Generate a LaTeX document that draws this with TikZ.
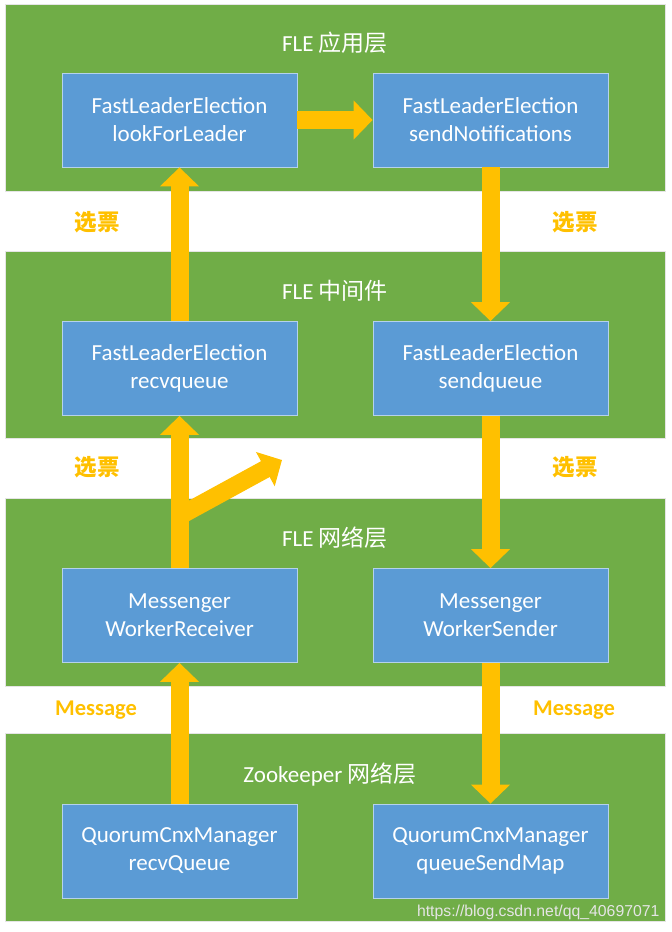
\documentclass[tikz,border=0pt]{standalone}
\usepackage{fontspec}
\setmainfont{Carlito}
\newfontfamily\cjk{Noto Sans CJK SC}
\newfontfamily\markfont{Liberation Sans}
\usetikzlibrary{arrows.meta}
\definecolor{bandgreen}{HTML}{70AD47}
\definecolor{boxblue}{HTML}{5B9BD5}
\definecolor{flowgold}{HTML}{FFC000}

\begin{document}
\begin{tikzpicture}[x=1pt,y=-1pt,
  layer/.style={fill=bandgreen,draw=black!10,line width=.8pt},
  box/.style={fill=boxblue,draw=white!55!boxblue,line width=.8pt,text=white,align=center,
    minimum width=235pt,minimum height=94pt,inner sep=0pt,font=\fontsize{23}{28}\selectfont},
  title/.style={text=white,font=\fontsize{23}{26}\selectfont},
  vote/.style={text=flowgold,font=\fontsize{22.5}{26}\selectfont\bfseries},
  flow/.style={draw=flowgold,line width=18pt,-{Triangle[width=38pt,length=19pt]}}]
  \useasboundingbox (0,0) rectangle (672,932);

  % layers
  \fill[layer] (5,4) rectangle (665,191);
  \fill[layer] (5,251) rectangle (665,438);
  \fill[layer] (5,498) rectangle (665,686);
  \fill[layer] (5,733) rectangle (665,921);
  \draw[layer,fill=none] (5,4) rectangle (665,191) (5,251) rectangle (665,438)
    (5,498) rectangle (665,686) (5,733) rectangle (665,921);

  \node[title] (tapp) at (335,43) {FLE {\cjk 应用层}};
  \node[title] (tmid) at (335,291) {FLE {\cjk 中间件}};
  \node[title] (tnet) at (335,538) {FLE {\cjk 网络层}};
  \node[title] (tzk) at (330,775) {Zookeeper {\cjk 网络层}};

  % boxes
  \node[box] (lookfor) at (179.5,120) {FastLeaderElection\\lookForLeader};
  \node[box] (sendnotif) at (490.5,120) {FastLeaderElection\\sendNotifications};
  \node[box] (recvq) at (179.5,368.5) {FastLeaderElection\\recvqueue};
  \node[box] (sendq) at (490.5,368.5) {FastLeaderElection\\sendqueue};
  \node[box] (wrecv) at (179.5,615.5) {Messenger\\WorkerReceiver};
  \node[box] (wsend) at (490.5,615.5) {Messenger\\WorkerSender};
  \node[box] (cnxrecv) at (179.5,851) {QuorumCnxManager\\recvQueue};
  \node[box] (cnxsend) at (490.5,851) {QuorumCnxManager\\queueSendMap};

  % gap labels
  \node[vote] (voteul) at (97,222) {\cjk 选票};
  \node[vote] (voteur) at (575,222) {\cjk 选票};
  \node[vote] (voteml) at (97,467) {\cjk 选票};
  \node[vote] (votemr) at (575,467) {\cjk 选票};
  \node[vote] (msgl) at (96,710) {Message};
  \node[vote] (msgr) at (574,710) {Message};

  % flows
  \draw[flow] (lookfor.east) -- (sendnotif.west);
  \draw[flow] (recvq.north) -- (lookfor.south);
  \draw[flow] (sendnotif.south) -- (sendq.north);
  \draw[flow] (wrecv.north) -- (recvq.south);
  \draw[flow] (sendq.south) -- (wsend.north);
  \draw[flow] (cnxrecv.north) -- (wrecv.south);
  \draw[flow] (wsend.south) -- (cnxsend.north);
  \coordinate (fork) at (179.5,516);
  \coordinate (forktip) at (282,460);
  \draw[flow] (fork) -- (forktip);

  \node[anchor=east,text=white!80!gray,font=\markfont\fontsize{15.8}{16}\selectfont] (mark) at (663,912)
    {https://blog.csdn.net/qq\_40697071};
\end{tikzpicture}
\end{document}
